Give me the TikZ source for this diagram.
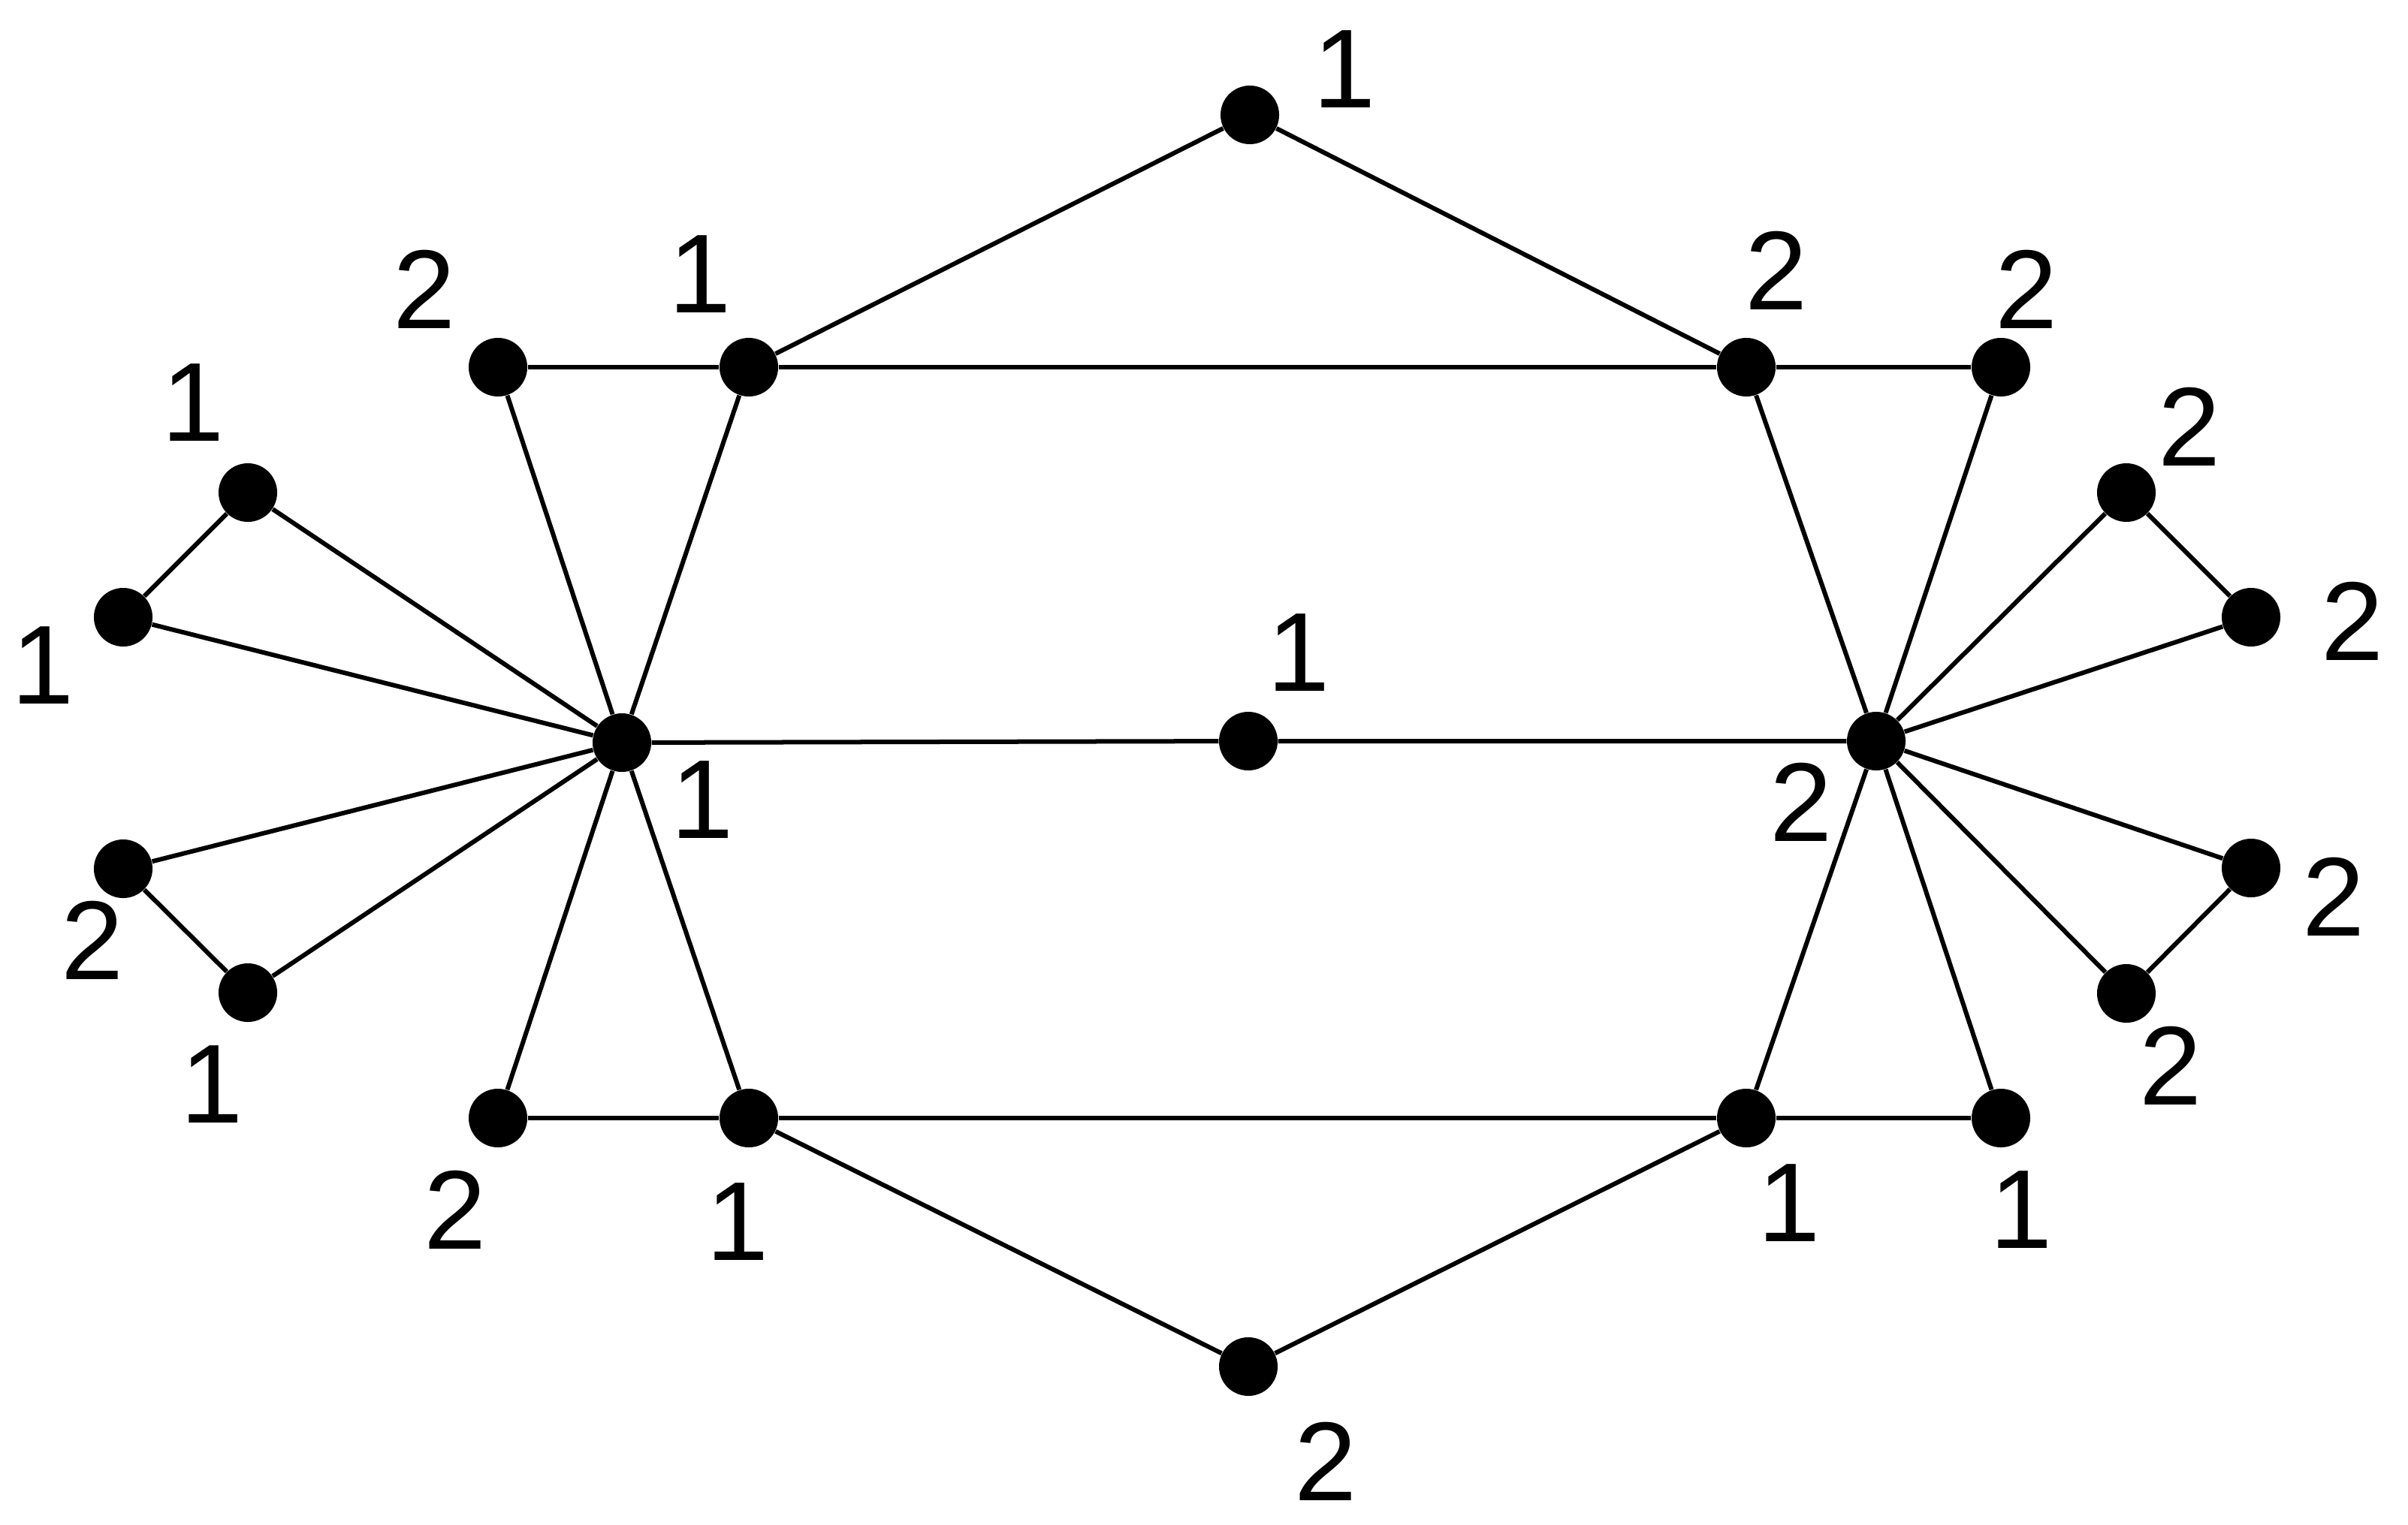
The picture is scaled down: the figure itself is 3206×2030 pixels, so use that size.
\documentclass[tikz,border=0pt]{standalone}
\usepackage{fontspec}
\setmainfont{Liberation Sans}
\begin{document}
\begin{tikzpicture}[x={(0.01cm,0)},y={(0,-0.01cm)},
  dot/.style={circle,fill=black,inner sep=0pt,minimum size=0.78cm},
  lab/.style={inner sep=0pt,font=\fontsize{42.5}{50}\selectfont},
  edge/.style={line width=0.06cm,black}]
\useasboundingbox[fill=white] (0,0) rectangle (3206,2030);
% vertices
\node[dot] (top) at (1664,153) {};
\node[dot] (ul2) at (663,489) {};
\node[dot] (ul1) at (997,489) {};
\node[dot] (ur1) at (2325,489) {};
\node[dot] (ur2) at (2664,489) {};
\node[dot] (lh) at (828,989) {};
\node[dot] (c) at (1662,987) {};
\node[dot] (rh) at (2498,987) {};
\node[dot] (lp1) at (330,656) {};
\node[dot] (lp2) at (164,822) {};
\node[dot] (lp3) at (164,1157) {};
\node[dot] (lp4) at (330,1322) {};
\node[dot] (rp1) at (2831,656) {};
\node[dot] (rp2) at (2997,822) {};
\node[dot] (rp3) at (2997,1156) {};
\node[dot] (rp4) at (2831,1323) {};
\node[dot] (ll2) at (663,1489) {};
\node[dot] (ll1) at (997,1489) {};
\node[dot] (lr1) at (2325,1489) {};
\node[dot] (lr2) at (2664,1489) {};
\node[dot] (bot) at (1662,1820) {};
% edges
\draw[edge] (top) -- (ul1);
\draw[edge] (top) -- (ur1);
\draw[edge] (ul2) -- (ul1) -- (ur1) -- (ur2);
\draw[edge] (ll2) -- (ll1) -- (lr1) -- (lr2);
\draw[edge] (bot) -- (ll1);
\draw[edge] (bot) -- (lr1);
\draw[edge] (lh) -- (c) -- (rh);
\foreach \n in {ul2,ul1,lp1,lp2,lp3,lp4,ll2,ll1} \draw[edge] (lh) -- (\n);
\foreach \n in {ur1,ur2,rp1,rp2,rp3,rp4,lr1,lr2} \draw[edge] (rh) -- (\n);
\draw[edge] (lp1) -- (lp2);
\draw[edge] (lp3) -- (lp4);
\draw[edge] (rp1) -- (rp2);
\draw[edge] (rp3) -- (rp4);
% labels
\node[lab] (Ltop) at (1790,92) {1};
\node[lab] (Lul2) at (565,385) {2};
\node[lab] (Lul1) at (932,365) {1};
\node[lab] (Lur1) at (2365,360) {2};
\node[lab] (Lur2) at (2698,385) {2};
\node[lab] (Llp1) at (257,536) {1};
\node[lab] (Llp2) at (57,886) {1};
\node[lab] (Llp3) at (123,1252) {2};
\node[lab] (Llp4) at (282,1444) {1};
\node[lab] (Lrp1) at (2915,568) {2};
\node[lab] (Lrp2) at (3132,827) {2};
\node[lab] (Lrp3) at (3107,1194) {2};
\node[lab] (Lrp4) at (2890,1419) {2};
\node[lab] (Llh) at (935,1065) {1};
\node[lab] (Lc) at (1729,869) {1};
\node[lab] (Lrh) at (2398,1068) {2};
\node[lab] (Lll2) at (606,1611) {2};
\node[lab] (Lll1) at (982,1627) {1};
\node[lab] (Llr1) at (2382,1602) {1};
\node[lab] (Llr2) at (2691,1611) {1};
\node[lab] (Lbot) at (1765,1946) {2};
\end{tikzpicture}
\end{document}
